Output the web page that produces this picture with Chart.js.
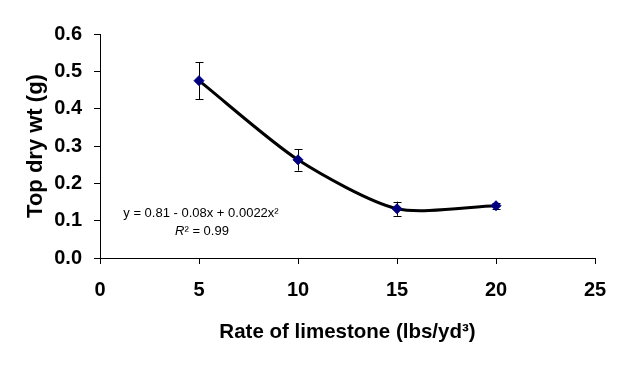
<!DOCTYPE html>
<html>
<head>
<meta charset="utf-8">
<script src="https://cdn.jsdelivr.net/npm/chart.js@4"></script>
<style>
    html, body { margin: 0; padding: 0; background: #ffffff; }
    #wrap { width: 624px; height: 365px; }
</style>
</head>
<body>
<div id="wrap"><canvas id="lineChart" width="624" height="365"></canvas></div>
<script>

const DOSIS = [5, 10, 15, 20];
const PESO_SECO = [0.475, 0.263, 0.132, 0.140];
const ERROR_EST = [0.050, 0.029, 0.019, 0.008];

const X_TICKS = [0, 5, 10, 15, 20, 25];
const Y_TICKS = [0.0, 0.1, 0.2, 0.3, 0.4, 0.5, 0.6];

const ECUACION = "y = 0.81 - 0.08x + 0.0022x\u00b2";
const R2 = "0.99";

const FUENTE = "'Liberation Sans', Arial, sans-serif";

const barrasError = {
    id: "barrasError",
    beforeDatasetsDraw(chart) {
        const x = chart.scales.x;
        const y = chart.scales.y;
        const c = chart.ctx;
        c.save();
        c.strokeStyle = "#000000";
        c.lineWidth = 1;
        DOSIS.forEach((d, i) => {
            const px = Math.round(x.getPixelForValue(d)) + 0.5;
            const top = y.getPixelForValue(PESO_SECO[i] + ERROR_EST[i]);
            const bot = y.getPixelForValue(PESO_SECO[i] - ERROR_EST[i]);
            c.beginPath();
            c.moveTo(px, top);
            c.lineTo(px, bot);
            c.moveTo(px - 4, Math.round(top) + 0.5);
            c.lineTo(px + 4, Math.round(top) + 0.5);
            c.moveTo(px - 4, Math.round(bot) + 0.5);
            c.lineTo(px + 4, Math.round(bot) + 0.5);
            c.stroke();
        });
        c.restore();
    }
};

const ecuacion = {
    id: "ecuacion",
    afterDraw(chart) {
        const x = chart.scales.x;
        const y = chart.scales.y;
        const c = chart.ctx;
        c.save();
        c.fillStyle = "#000000";
        c.textAlign = "center";
        c.textBaseline = "middle";
        c.font = "13px " + FUENTE;
        c.fillText(ECUACION, x.getPixelForValue(5.1), y.getPixelForValue(0.119));

        const cx = x.getPixelForValue(5.15);
        const cy = y.getPixelForValue(0.071);
        const resto = "\u00b2 = " + R2;
        c.font = "italic 13px " + FUENTE;
        const wR = c.measureText("R").width;
        c.font = "13px " + FUENTE;
        const wResto = c.measureText(resto).width;
        const x0 = cx - (wR + wResto) / 2;
        c.textAlign = "left";
        c.font = "italic 13px " + FUENTE;
        c.fillText("R", x0, cy);
        c.font = "13px " + FUENTE;
        c.fillText(resto, x0 + wR, cy);
        c.restore();
    }
};

new Chart(document.getElementById("lineChart"), {
    type: "scatter",
    data: {
        datasets: [
            {
                label: "Peso seco",
                data: DOSIS.map((d, i) => ({ x: d, y: PESO_SECO[i] })),
                showLine: true,
                tension: 0.25,
                borderColor: "#000000",
                borderWidth: 3,
                pointStyle: "rectRot",
                pointRadius: 5,
                pointBackgroundColor: "#000080",
                pointBorderColor: "#000080",
                pointBorderWidth: 1
            }
        ]
    },
    options: {
        responsive: false,
        animation: false,
        layout: {
            padding: { left: 23, top: 34, right: 29, bottom: 0 }
        },
        plugins: {
            legend: { display: false },
            tooltip: { enabled: false }
        },
        scales: {
            x: {
                type: "linear",
                min: 0,
                max: 25,
                afterBuildTicks(axis) {
                    axis.ticks = X_TICKS.map(v => ({ value: v }));
                },
                afterFit(axis) {
                    axis.height = 107;
                },
                grid: {
                    drawOnChartArea: false,
                    color: "#000000",
                    tickLength: 6
                },
                border: { color: "#000000", width: 1 },
                ticks: {
                    color: "#000000",
                    padding: 14,
                    maxRotation: 0,
                    font: { family: FUENTE, size: 20, weight: "bold" }
                },
                title: {
                    display: true,
                    text: "Rate of limestone (lbs/yd\u00b3)",
                    color: "#000000",
                    padding: { top: 0, bottom: 20 },
                    font: { family: FUENTE, size: 20.5, weight: "bold" }
                }
            },
            y: {
                type: "linear",
                min: 0,
                max: 0.6,
                afterBuildTicks(axis) {
                    axis.ticks = Y_TICKS.map(v => ({ value: v }));
                },
                afterFit(axis) {
                    axis.width = 77;
                },
                grid: {
                    drawOnChartArea: false,
                    color: "#000000",
                    tickLength: 6
                },
                border: { color: "#000000", width: 1 },
                ticks: {
                    color: "#000000",
                    padding: 12,
                    callback: v => Number(v).toFixed(1),
                    font: { family: FUENTE, size: 20, weight: "bold" }
                },
                title: {
                    display: true,
                    text: "Top dry wt (g)",
                    color: "#000000",
                    padding: 0,
                    font: { family: FUENTE, size: 22, weight: "bold" }
                }
            }
        }
    },
    plugins: [barrasError, ecuacion]
});

</script>
</body>
</html>
